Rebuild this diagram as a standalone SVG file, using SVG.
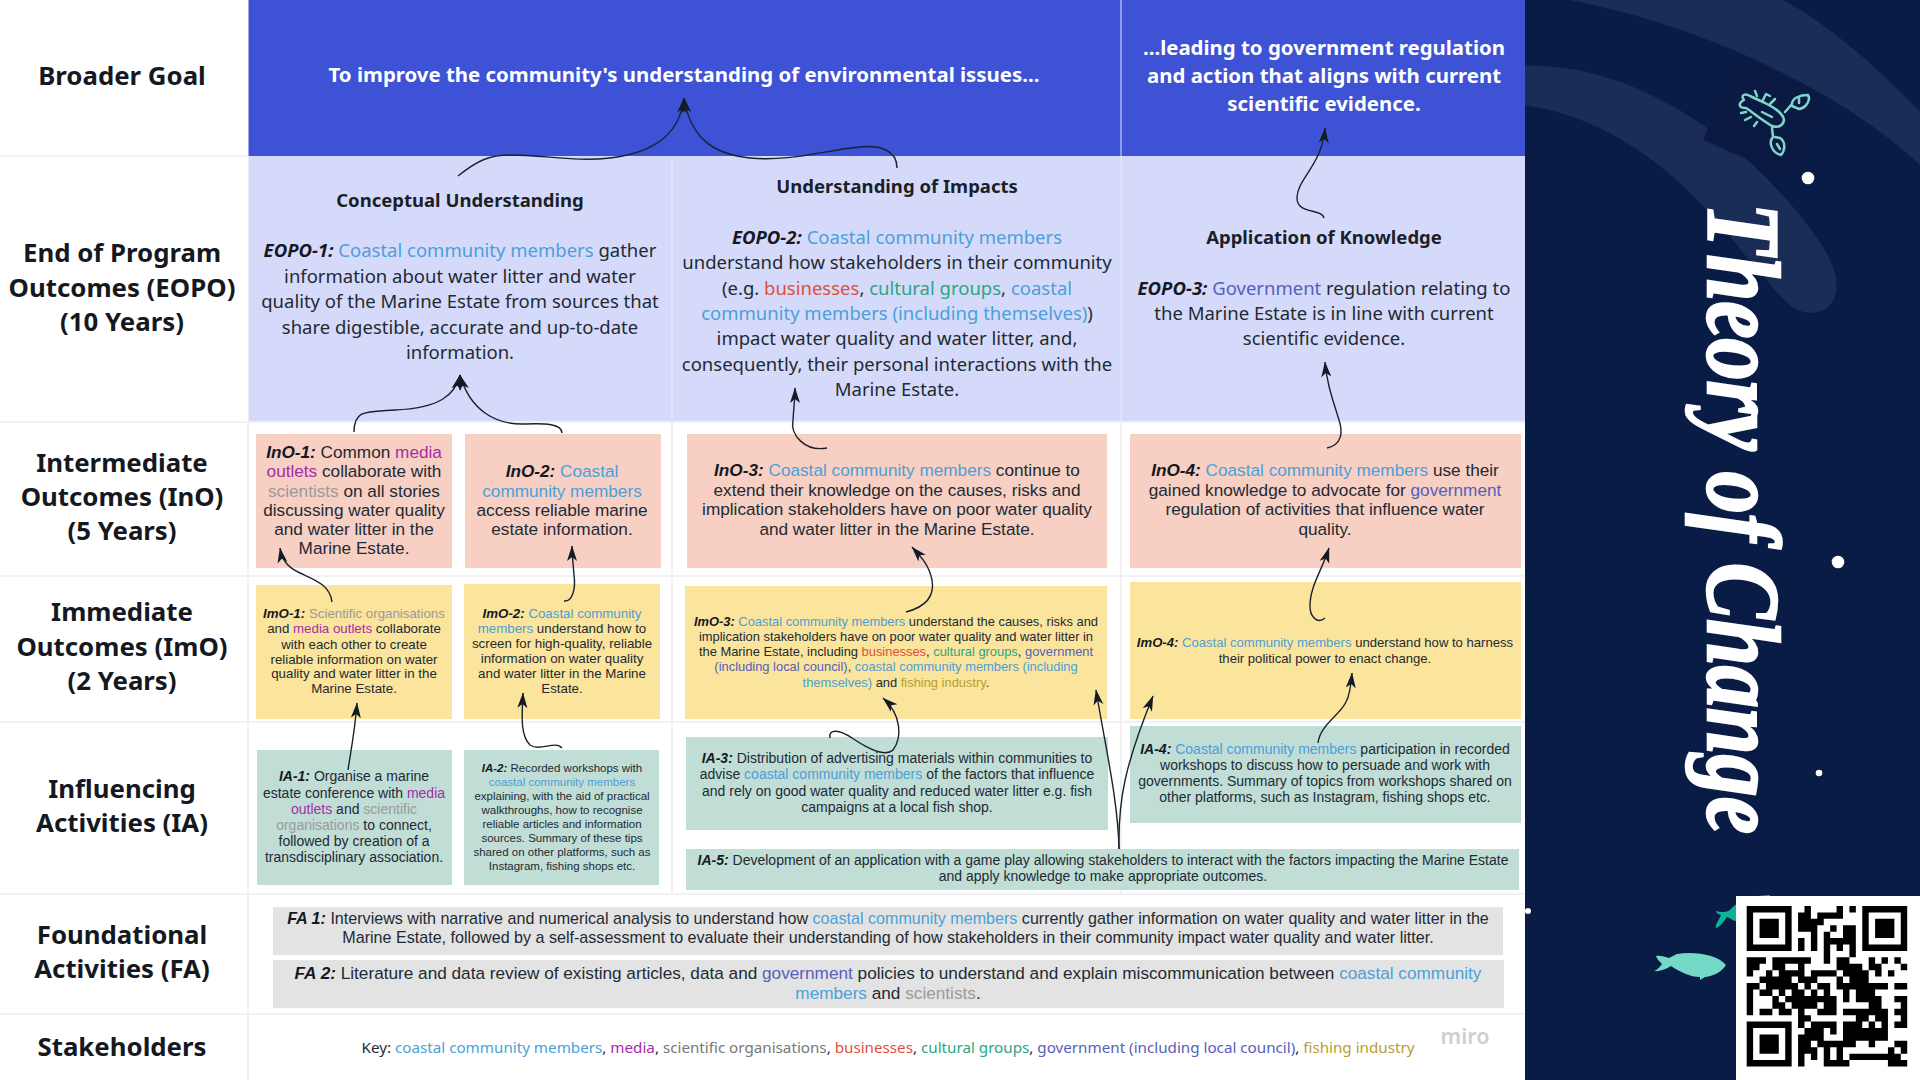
<svg xmlns="http://www.w3.org/2000/svg" width="1920" height="1080" viewBox="0 0 1920 1080">
<style>
text{text-anchor:middle;fill:#222a33}
.h{font-family:"Noto Sans",sans-serif;font-weight:700;font-size:25.800px;fill:#15191f}
.w{font-family:"Noto Sans",sans-serif;font-weight:700;font-size:20.400px;fill:#fff}
.e{font-family:"Noto Sans",sans-serif;font-size:18.500px}
.t{font-family:"Noto Sans",sans-serif;font-weight:700;font-size:18.500px;fill:#1b1f27}
.a{font-family:"Liberation Sans",Arial,sans-serif}
.s175{font-size:17.200px}.s140{font-size:14px}.s133{font-size:13.300px}.s131{font-size:13.100px}.s129{font-size:12.900px}.s115{font-size:11.500px}.s161{font-size:16.100px}.s172{font-size:17.200px}
.l{font-weight:700;font-style:italic;fill:#15191f}
.c{fill:#4c9fd9}.m{fill:#a42ea8}.o{fill:#9a9a9a}.b{fill:#df4f3a}.g{fill:#2da583}.v{fill:#5560bb}.f{fill:#b89e2d}
.in{fill:#f7cfc3}.im{fill:#fbe49c}.ia{fill:#c0ddd6}.fa{fill:#e3e3e3}
.grid{stroke:#f1f1f3;stroke-width:2;fill:none}
.arrow{fill:none;stroke:#1a2230;stroke-width:1.400;marker-end:url(#ah)}
</style>
<defs>
<marker id="ah" markerUnits="userSpaceOnUse" markerWidth="16" markerHeight="12" refX="15" refY="5" orient="auto" viewBox="0 0 16 10"><path d="M15.500 5L0 0L4 5L0 10Z" fill="#141b28"/></marker>
</defs>
<rect width="1920" height="1080" fill="#fff"/>
<g id="grid">
<rect x="248.500" y="0" width="1277" height="156" fill="#3e52d6"/>
<rect x="248.500" y="156" width="1277" height="266" fill="#d5dafa"/>
<path d="M1121 0V156" stroke="#a9b3ee" stroke-width="1.500"/>
<path d="M672 156V422M1121 156V422" stroke="#e2e5fb" stroke-width="1.500"/>
<path class="grid" d="M0 156H248M0 422H1525M0 576H1525M0 722H1525M0 894H1525M0 1014H1525M248 422V1080M672 422V894M1121 422V894"/>
</g>
<g id="row-labels">
<text class="h" x="122" y="85">Broader Goal</text>
<text class="h" x="122" y="262">End of Program</text><text class="h" x="122" y="297">Outcomes (EOPO)</text><text class="h" x="122" y="331">(10 Years)</text>
<text class="h" x="122" y="472">Intermediate</text><text class="h" x="122" y="506">Outcomes (InO)</text><text class="h" x="122" y="540">(5 Years)</text>
<text class="h" x="122" y="621">Immediate</text><text class="h" x="122" y="656">Outcomes (ImO)</text><text class="h" x="122" y="690">(2 Years)</text>
<text class="h" x="122" y="798">Influencing</text><text class="h" x="122" y="832">Activities (IA)</text>
<text class="h" x="122" y="944">Foundational</text><text class="h" x="122" y="978">Activities (FA)</text>
<text class="h" x="122" y="1056">Stakeholders</text>
</g>
<g id="goal-1"><text class="w" x="684" y="82">To improve the community's understanding of environmental issues...</text></g>
<g id="goal-2"><text class="w" x="1324" y="55">...leading to government regulation</text><text class="w" x="1324" y="83">and action that aligns with current</text><text class="w" x="1324" y="111">scientific evidence.</text></g>
<g id="eopo-1">
<text class="t" x="460" y="207">Conceptual Understanding</text>
<text class="e" x="460" y="257"><tspan class="l">EOPO-1:</tspan> <tspan class="c">Coastal community members</tspan> gather</text>
<text class="e" x="460" y="283">information about water litter and water</text>
<text class="e" x="460" y="308">quality of the Marine Estate from sources that</text>
<text class="e" x="460" y="334">share digestible, accurate and up-to-date</text>
<text class="e" x="460" y="359">information.</text>
</g>
<g id="eopo-2">
<text class="t" x="897" y="193">Understanding of Impacts</text>
<text class="e" x="897" y="244"><tspan class="l">EOPO-2:</tspan> <tspan class="c">Coastal community members</tspan></text>
<text class="e" x="897" y="269">understand how stakeholders in their community</text>
<text class="e" x="897" y="295">(e.g. <tspan class="b">businesses</tspan>, <tspan class="g">cultural groups</tspan>, <tspan class="c">coastal</tspan></text>
<text class="e" x="897" y="320"><tspan class="c">community members (including themselves)</tspan>)</text>
<text class="e" x="897" y="345">impact water quality and water litter, and,</text>
<text class="e" x="897" y="371">consequently, their personal interactions with the</text>
<text class="e" x="897" y="396">Marine Estate.</text>
</g>
<g id="eopo-3">
<text class="t" x="1324" y="244">Application of Knowledge</text>
<text class="e" x="1324" y="295"><tspan class="l">EOPO-3:</tspan> <tspan class="v">Government</tspan> regulation relating to</text>
<text class="e" x="1324" y="320">the Marine Estate is in line with current</text>
<text class="e" x="1324" y="345">scientific evidence.</text>
</g>
<g id="ino-1" class="a s175"><rect class="in" x="256" y="434" width="196" height="134"/>
<text x="354" y="458"><tspan class="l">InO-1:</tspan> Common <tspan class="m">media</tspan></text><text x="354" y="477"><tspan class="m">outlets</tspan> collaborate with</text><text x="354" y="497"><tspan class="o">scientists</tspan> on all stories</text><text x="354" y="516">discussing water quality</text><text x="354" y="535">and water litter in the</text><text x="354" y="554">Marine Estate.</text></g>
<g id="ino-2" class="a s175"><rect class="in" x="465" y="434" width="196" height="134"/>
<text x="562" y="477"><tspan class="l">InO-2:</tspan> <tspan class="c">Coastal</tspan></text><text x="562" y="497"><tspan class="c">community members</tspan></text><text x="562" y="516">access reliable marine</text><text x="562" y="535">estate information.</text></g>
<g id="ino-3" class="a s175"><rect class="in" x="687" y="434" width="420" height="134"/>
<text x="897" y="476"><tspan class="l">InO-3:</tspan> <tspan class="c">Coastal community members</tspan> continue to</text><text x="897" y="496">extend their knowledge on the causes, risks and</text><text x="897" y="515">implication stakeholders have on poor water quality</text><text x="897" y="535">and water litter in the Marine Estate.</text></g>
<g id="ino-4" class="a s175"><rect class="in" x="1130" y="434" width="391" height="134"/>
<text x="1325" y="476"><tspan class="l">InO-4:</tspan> <tspan class="c">Coastal community members</tspan> use their</text><text x="1325" y="496">gained knowledge to advocate for <tspan class="v">government</tspan></text><text x="1325" y="515">regulation of activities that influence water</text><text x="1325" y="535">quality.</text></g>
<g id="imo-1" class="a s133"><rect class="im" x="256" y="585" width="196" height="134"/>
<text x="354" y="618"><tspan class="l">ImO-1:</tspan> <tspan class="o">Scientific organisations</tspan></text><text x="354" y="633">and <tspan class="m">media outlets</tspan> collaborate</text><text x="354" y="649">with each other to create</text><text x="354" y="664">reliable information on water</text><text x="354" y="678">quality and water litter in the</text><text x="354" y="693">Marine Estate.</text></g>
<g id="imo-2" class="a s133"><rect class="im" x="464" y="584" width="196" height="135"/>
<text x="562" y="618"><tspan class="l">ImO-2:</tspan> <tspan class="c">Coastal community</tspan></text><text x="562" y="633"><tspan class="c">members</tspan> understand how to</text><text x="562" y="648">screen for high-quality, reliable</text><text x="562" y="663">information on water quality</text><text x="562" y="678">and water litter in the Marine</text><text x="562" y="693">Estate.</text></g>
<g id="imo-3" class="a s129"><rect class="im" x="685" y="586" width="422" height="133"/>
<text x="896" y="626"><tspan class="l">ImO-3:</tspan> <tspan class="c">Coastal community members</tspan> understand the causes, risks and</text><text x="896" y="641">implication stakeholders have on poor water quality and water litter in</text><text x="896" y="656">the Marine Estate, including <tspan class="b">businesses</tspan>, <tspan class="g">cultural groups</tspan>, <tspan class="v">government</tspan></text><text x="896" y="671"><tspan class="v">(including local council)</tspan>, <tspan class="c">coastal community members (including</tspan></text><text x="896" y="687"><tspan class="c">themselves)</tspan> and <tspan class="f">fishing industry</tspan>.</text></g>
<g id="imo-4" class="a s131"><rect class="im" x="1130" y="582" width="391" height="137"/>
<text x="1325" y="647"><tspan class="l">ImO-4:</tspan> <tspan class="c">Coastal community members</tspan> understand how to harness</text><text x="1325" y="663">their political power to enact change.</text></g>
<g id="ia-1" class="a s140"><rect class="ia" x="257" y="750" width="195" height="135"/>
<text x="354" y="781"><tspan class="l">IA-1:</tspan> Organise a marine</text><text x="354" y="798">estate conference with <tspan class="m">media</tspan></text><text x="354" y="814"><tspan class="m">outlets</tspan> and <tspan class="o">scientific</tspan></text><text x="354" y="830"><tspan class="o">organisations</tspan> to connect,</text><text x="354" y="846">followed by creation of a</text><text x="354" y="862">transdisciplinary association.</text></g>
<g id="ia-2" class="a s115"><rect class="ia" x="464" y="750" width="195" height="135"/>
<text x="562" y="772"><tspan class="l">IA-2:</tspan> Recorded workshops with</text><text x="562" y="786"><tspan class="c">coastal community members</tspan></text><text x="562" y="800">explaining, with the aid of practical</text><text x="562" y="814">walkthroughs,  how to recognise</text><text x="562" y="828">reliable articles and information</text><text x="562" y="842">sources. Summary of these tips</text><text x="562" y="856">shared on other platforms, such as</text><text x="562" y="870">Instagram, fishing shops etc.</text></g>
<g id="ia-3" class="a s140"><rect class="ia" x="686" y="737" width="422" height="93"/>
<text x="897" y="763"><tspan class="l">IA-3:</tspan> Distribution of advertising materials within communities to</text><text x="897" y="779">advise <tspan class="c">coastal community members</tspan> of the factors that influence</text><text x="897" y="796">and rely on good water quality and reduced water litter e.g. fish</text><text x="897" y="812">campaigns at a local fish shop.</text></g>
<g id="ia-4" class="a s140"><rect class="ia" x="1130" y="726" width="391" height="97"/>
<text x="1325" y="754"><tspan class="l">IA-4:</tspan> <tspan class="c">Coastal community members</tspan> participation in recorded</text><text x="1325" y="770">workshops to discuss how to persuade and work with</text><text x="1325" y="786">governments. Summary of topics from workshops shared on</text><text x="1325" y="802">other platforms, such as Instagram, fishing shops etc.</text></g>
<g id="ia-5" class="a s140"><rect class="ia" x="686" y="849" width="833" height="41"/>
<text x="1103" y="865"><tspan class="l">IA-5:</tspan> Development of an application with a game play allowing stakeholders to interact with the factors impacting the Marine Estate</text><text x="1103" y="881">and apply knowledge to make appropriate outcomes.</text></g>
<g id="fa-1" class="a s161"><rect class="fa" x="273" y="907" width="1230" height="48"/>
<text x="888" y="924"><tspan class="l">FA 1:</tspan> Interviews with narrative and numerical analysis to understand how <tspan class="c">coastal community members</tspan> currently gather information on water quality and water litter in the</text><text x="888" y="943">Marine Estate, followed by a self-assessment to evaluate their understanding of how stakeholders in their community impact water quality and water litter.</text></g>
<g id="fa-2" class="a s172"><rect class="fa" x="273" y="960" width="1231" height="48"/>
<text x="888" y="979"><tspan class="l">FA 2:</tspan> Literature and data review of existing articles, data and <tspan class="v">government</tspan> policies to understand and explain miscommunication between <tspan class="c">coastal community</tspan></text><text x="888" y="999"><tspan class="c">members</tspan> and <tspan class="o">scientists</tspan>.</text></g>
<g id="key"><text x="888" y="1053" style="font-family:'Noto Sans',sans-serif;font-size:15.200px" fill="#555">Key: <tspan class="c">coastal community members</tspan>, <tspan class="m">media</tspan>, <tspan style="fill:#777">scientific organisations</tspan>, <tspan class="b">businesses</tspan>, <tspan class="g">cultural groups</tspan>, <tspan class="v">government (including local council)</tspan>, <tspan class="f">fishing industry</tspan></text>
<text x="1465" y="1044" style="font-family:'Noto Sans',sans-serif;font-size:21.500px;font-weight:600;fill:#cfcfcf">miro</text></g>
<g id="connectors">
<path class="arrow" d="M458 176C478 160 490 155 510 155C545 155 575 162 610 158C660 152 680 130 684 98"/>
<path class="arrow" d="M897 168C897 150 880 145 860 147C825 150 790 162 750 158C710 154 690 135 684 98"/>
<path class="arrow" d="M1324 218C1322 208 1296 215 1297 197C1298 178 1322 165 1325 128"/>
<path class="arrow" d="M354 432C354 410 365 412 395 410C440 408 455 395 460 375"/>
<path class="arrow" d="M562 433C562 424 545 423 525 424C495 425 470 410 460 375"/>
<path class="arrow" d="M827 448C805 452 790 435 793 420C794 405 795 398 795 388"/>
<path class="arrow" d="M1327 448C1342 445 1343 432 1339 420C1333 400 1327 385 1325 362"/>
<path class="arrow" d="M332 602C330 585 315 580 300 573C287 567 282 560 280 548"/>
<path class="arrow" d="M564 601C572 602 576 590 574 575C573 562 572 555 572 546"/>
<path class="arrow" d="M348 770C351 750 355 730 357 703"/>
<path class="arrow" d="M562 748C555 740 540 752 530 745C520 735 522 715 523 693"/>
<path class="arrow" d="M906 612C925 607 935 597 932 580C929 565 922 558 912 547"/>
<path class="arrow" d="M830 738C828 728 840 730 852 738C870 750 885 757 893 750C902 738 902 715 883 698"/>
<path class="arrow" d="M1119 849C1118 800 1105 745 1096 690"/>
<path class="arrow" d="M1119 849C1118 800 1125 765 1153 696"/>
<path class="arrow" d="M1325 618C1318 624 1309 618 1310 603C1311 585 1322 570 1329 548"/>
<path class="arrow" d="M1318 743C1320 725 1340 715 1346 702C1350 695 1351 685 1352 673"/>
</g>
<g id="side-panel">
<rect x="1525" y="0" width="395" height="1080" fill="#081c45"/>
<path d="M1570 0C1700 25 1840 90 1920 165V112C1880 70 1830 25 1783 0Z" fill="#1a2d56"/>
<path d="M1525 66C1640 62 1760 150 1825 250C1845 285 1838 312 1810 313C1785 312 1770 280 1745 255C1680 170 1610 118 1525 105Z" fill="#1a2d56"/>
<path d="M1703 140L1740 55L1827 97L1787 177Z" fill="#0b1a42"/>
<g fill="none" stroke="#7fd6c8" stroke-width="2.500" stroke-linecap="round" stroke-linejoin="round">
<path d="M1744 100C1740 95 1745 93 1750 96L1765 103C1775 108 1783 113 1784 120C1783 126 1778 128 1772 126C1762 120 1752 112 1746 108C1738 108 1738 103 1744 100Z"/>
<path d="M1785 112L1792 104C1792 98 1800 95 1808 95C1811 100 1806 108 1799 109L1792 106M1799 98L1799 103"/>
<path d="M1772 128L1773 137C1768 142 1772 153 1781 155C1786 149 1785 141 1780 138L1775 137M1777 144L1780 149"/>
<path d="M1757 96L1755 91M1763 100L1766 94L1770 96M1770 104L1775 99M1746 112L1741 113M1751 117L1745 120M1757 122L1754 126M1762 112L1772 117"/>
</g>
<g fill="#fff"><circle cx="1808" cy="178" r="6.300"/><circle cx="1838" cy="562" r="6.300"/><circle cx="1819" cy="773" r="3.300"/><circle cx="1528" cy="911" r="3"/></g>
<text x="0" y="0" transform="translate(1708 203) rotate(90)" textLength="631" lengthAdjust="spacingAndGlyphs" style="font-family:'Liberation Serif',serif;font-weight:700;font-style:italic;font-size:104px;fill:#fff;stroke:#fff;stroke-width:2.500px;text-anchor:start">Theory of Change</text>
<path d="M1716 911C1720 912 1726 913 1730 910C1735 905 1742 896 1770 895V925L1740 922C1735 922 1730 918 1727 917C1724 921 1720 927 1716 928C1715 924 1720 918 1721 915C1718 914 1716 913 1716 911Z" fill="#0cb39a"/>
<path d="M1726 965C1718 955 1695 951 1677 954L1669 958C1665 957 1660 955 1656 956C1657 959 1660 962 1662 964C1660 967 1657 970 1654 971C1660 972 1668 968 1671 966C1680 972 1690 977 1700 977L1700 980L1705 977C1715 976 1722 971 1726 965Z" fill="#74d9c7"/>
</g>
<g id="qr">
<rect x="1736" y="896" width="184" height="184" fill="#fff"/>
<g transform="translate(1746.700 906) scale(6.420)">
<path fill="#000" fill-rule="evenodd" d="M0 0H7V7H0ZM1 1V6H6V1ZM2 2H5V5H2ZM18 0H25V7H18ZM19 1V6H24V1ZM20 2H23V5H20ZM0 18H7V25H0ZM1 19V24H6V19ZM2 20H5V23H2Z"/>
<path fill="none" stroke="#000" stroke-width="1" d="M9 .5h1M14 .5h1M16 .5h1M8 1.500h2M11 1.500h3M14 1.500h1M8 2.500h4M8 3.500h2M10 3.500h1M13 3.500h1M15 3.500h2M10 4.500h1M12 4.500h1M15 4.500h2M8 5.500h1M10 5.500h1M12 5.500h1M13 5.500h4M8 6.500h1M10 6.500h1M12 6.500h1M14 6.500h1M16 6.500h1M12 7.500h1M16 7.500h1
M0 8.500h3M4 8.500h6M12 8.500h1M14 8.500h2M19 8.500h1M21 8.500h1M23 8.500h1
M0 9.500h2M4 9.500h2M8 9.500h1M14 9.500h4M19 9.500h2M24 9.500h1
M0 10.500h1M3 10.500h1M5 10.500h4M10 10.500h4M15 10.500h4M20 10.500h1M22 10.500h1
M2 11.500h5M8 11.500h3M14 11.500h1M16 11.500h3
M0 12.500h2M3 12.500h5M9 12.500h1M11 12.500h2M14 12.500h8M23 12.500h2
M0 13.500h1M2 13.500h2M5 13.500h1M7 13.500h2M10 13.500h1M12 13.500h1M15 13.500h1M17 13.500h3
M0 14.500h1M4 14.500h1M6 14.500h8M15 14.500h1M17 14.500h4M23 14.500h2
M0 15.500h1M4 15.500h2M7 15.500h4M12 15.500h2M19 15.500h2M24 15.500h1
M0 16.500h1M2 16.500h2M5 16.500h2M8 16.500h1M11 16.500h3M15 16.500h7M23 16.500h2
M8 17.500h2M17 17.500h2M20 17.500h2M24 17.500h1
M8 18.500h1M10 18.500h4M15 18.500h3M19 18.500h1M21 18.500h1M23 18.500h2
M9 19.500h3M13 19.500h1M15 19.500h7
M8 20.500h4M15 20.500h7
M8 21.500h2M11 21.500h6M19 21.500h1M23 21.500h2
M8 22.500h3M12 22.500h1M14 22.500h1M22 22.500h1M24 22.500h1
M8 23.500h1M10 23.500h1M12 23.500h1M14 23.500h1M16 23.500h8
M8 24.500h1M12 24.500h4M22 24.500h3"/>
</g>
</g>
</svg>
